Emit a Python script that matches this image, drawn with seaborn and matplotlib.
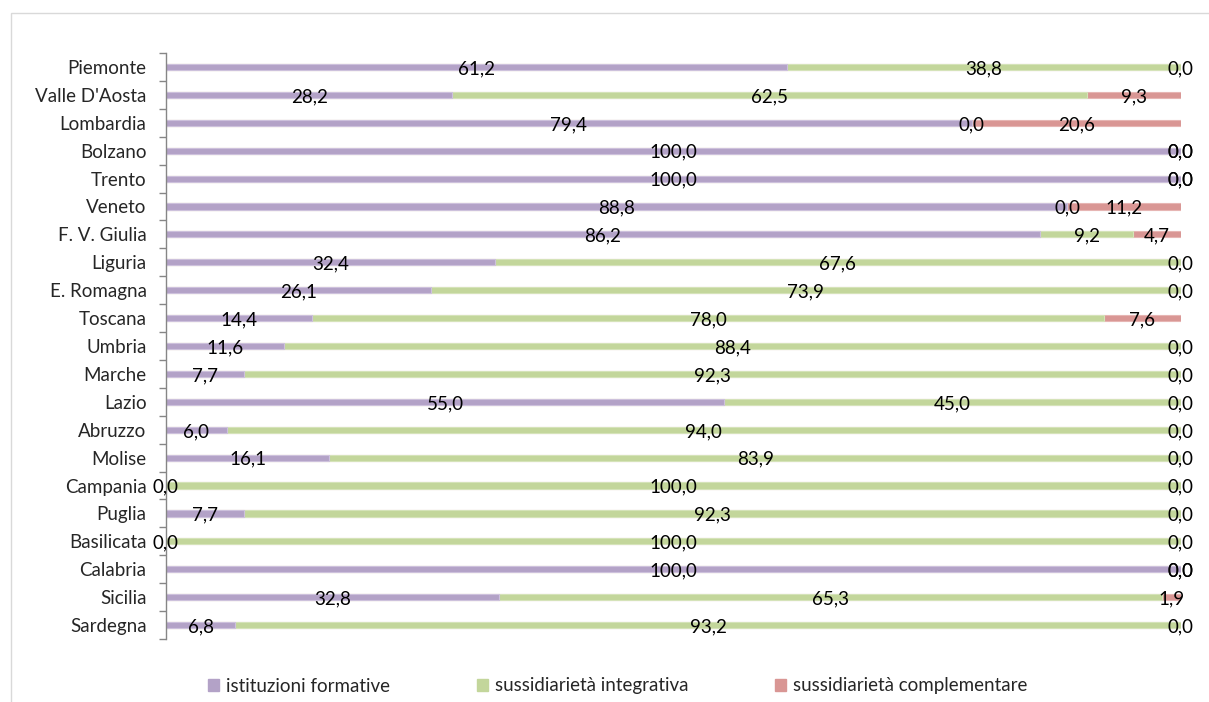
import numpy as np
import pandas as pd
import matplotlib.pyplot as plt
import seaborn as sns
from matplotlib.patches import Patch, Rectangle

regioni = ['Piemonte', "Valle D'Aosta", 'Lombardia', 'Bolzano', 'Trento', 'Veneto',
           'F. V. Giulia', 'Liguria', 'E. Romagna', 'Toscana', 'Umbria', 'Marche',
           'Lazio', 'Abruzzo', 'Molise', 'Campania', 'Puglia', 'Basilicata',
           'Calabria', 'Sicilia', 'Sardegna']
istituzioni = [61.2, 28.2, 79.4, 100.0, 100.0, 88.8, 86.2, 32.4, 26.1, 14.4, 11.6,
               7.7, 55.0, 6.0, 16.1, 0.0, 7.7, 0.0, 100.0, 32.8, 6.8]
integrativa = [38.8, 62.5, 0.0, 0.0, 0.0, 0.0, 9.2, 67.6, 73.9, 78.0, 88.4,
               92.3, 45.0, 94.0, 83.9, 100.0, 92.3, 100.0, 0.0, 65.3, 93.2]
complementare = [0.0, 9.3, 20.6, 0.0, 0.0, 11.2, 4.7, 0.0, 0.0, 7.6, 0.0,
                 0.0, 0.0, 0.0, 0.0, 0.0, 0.0, 0.0, 0.0, 1.9, 0.0]

serie = ['istituzioni formative', 'sussidiarietà integrativa', 'sussidiarietà complementare']
colori = ['#b3a2c7', '#c3d69b', '#d99694']
bordi = ['#cdc1dc', '#d5e3b9', '#e6b5b3']

df = pd.DataFrame({'regione': regioni, 'a': istituzioni, 'b': integrativa, 'c': complementare})
df['c1'] = df['a']
df['c2'] = df['a'] + df['b']
df['c3'] = df['c2'] + df['c']
# stacked 100%: rescale cumulative sums
df['c3n'] = 100.0
df['c2n'] = df['c2'] / df['c3'] * 100
df['c1n'] = df['c1'] / df['c3'] * 100

sns.set_style('white')
plt.rcParams['font.family'] = ['Lato', 'DejaVu Sans']

fig = plt.figure(figsize=(12.09, 7.02), dpi=100)
ax = fig.add_axes([0.1373, 0.0897, 0.8395, 0.8348])

for col, c, e in zip(['c3n', 'c2n', 'c1n'], colori[::-1], bordi[::-1]):
    sns.barplot(data=df, x=col, y='regione', orient='h', color=c, width=0.22,
                edgecolor=e, linewidth=0.8, saturation=1, ax=ax)

fs = 13.5
for i, r in df.iterrows():
    lefts = [0, r['c1n'], r['c2n']]
    rights = [r['c1n'], r['c2n'], r['c3n']]
    vals = [r['a'], r['b'], r['c']]
    for l, rr, v in zip(lefts, rights, vals):
        ax.text((l + rr) / 2, i + 0.06, f'{v:.1f}'.replace('.', ','), ha='center',
                va='center', fontsize=fs, color='black')

ax.set_xlim(0, 100)
ax.set_ylim(len(regioni) - 0.5, -0.5)
ax.set_xlabel('')
ax.set_ylabel('')
ax.set_xticks([])
ax.set_yticks(range(len(regioni)))
ax.set_yticklabels(regioni, fontsize=fs)
ax.set_yticks(np.arange(-0.5, len(regioni)), minor=True)
ax.tick_params(axis='y', which='major', length=0, pad=14)
ax.tick_params(axis='y', which='minor', length=5, width=1, color='#868686', left=True)
for s in ['top', 'right', 'bottom']:
    ax.spines[s].set_visible(False)
ax.spines['left'].set_color('#868686')
ax.spines['left'].set_linewidth(1)

# legend entries placed like the Excel legend
pos_x = [208, 477, 775]
for nome, c, x in zip(serie, colori, pos_x):
    fig.legend([Patch(facecolor=c, edgecolor=c)], [nome], loc='center left',
               bbox_to_anchor=(x / 1209, 1 - 686 / 702), frameon=False, fontsize=fs,
               handlelength=0.6, handleheight=0.65, handletextpad=0.35,
               borderpad=0, borderaxespad=0)

fig.patches.append(Rectangle((11 / 1209, -0.1), 1.2, 1 - 13 / 702 + 0.1,
                             transform=fig.transFigure, fill=False,
                             edgecolor='#d9d9d9', linewidth=1))

fig.savefig('out.png', dpi=100)
